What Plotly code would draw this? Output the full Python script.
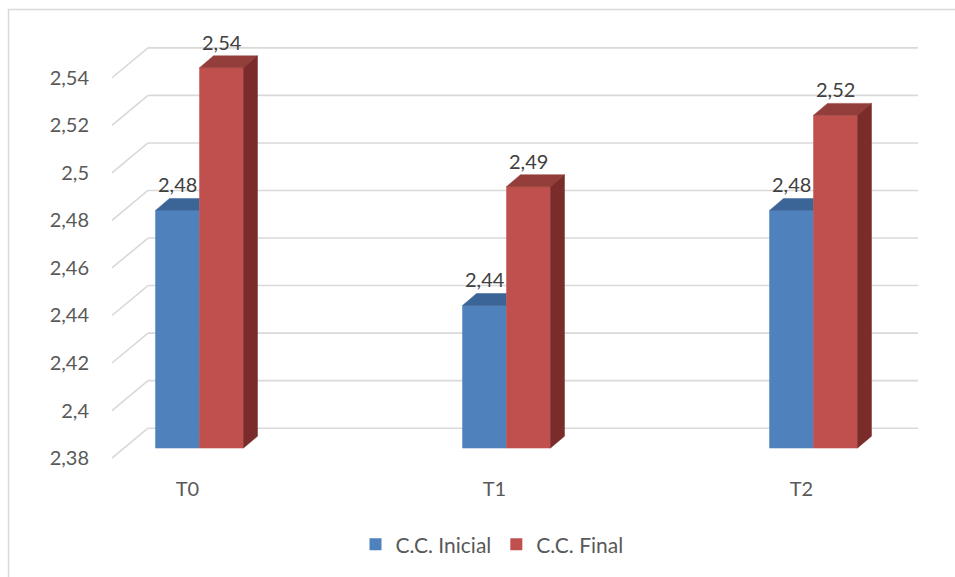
import plotly.graph_objects as go

categories = ["T0", "T1", "T2"]
cc_inicial = [2.48, 2.44, 2.48]
cc_final = [2.54, 2.49, 2.52]
tick_values = [2.38, 2.40, 2.42, 2.44, 2.46, 2.48, 2.50, 2.52, 2.54]
tick_labels = ["2,38", "2,4", "2,42", "2,44", "2,46", "2,48", "2,5", "2,52", "2,54"]
series_names = ["C.C. Inicial", "C.C. Final"]

# ---- layout geometry (pixels) ----
W, H = 955, 577
L, R, T, B = 112, 930, 20, 470
PXY = (460 - 78) / (2.54 - 2.38)   # px per value unit (front plane)
PXX = 307.0                        # px per category
X0PX = 199.5                       # pixel of category 0 centre (bar plane)
ymin = 2.38 - (B - 460) / PXY
ymax = 2.54 + (78 - T) / PXY
xmin = (L - X0PX) / PXX
xmax = (R - X0PX) / PXX

# 3D offsets
floor_dx, floor_dy = 36 / PXX, 30 / PXY   # front -> back wall
bar_dx, bar_dy = 12 / PXX, 10 / PXY       # front -> bar plane
dep_dx, dep_dy = 14 / PXX, 12 / PXY       # bar depth
bw = 44 / PXX                             # bar width

grid_col = "#d9d9d9"
colors = {"front": ["#4f81bd", "#c0504d"],
          "top": ["#3b6596", "#933e3b"],
          "side": ["#2f5582", "#7a2c2a"]}
FONT = "Lato"

fig = go.Figure()
shapes = []
x_front = (112 - X0PX) / PXX
x_back_end = (918 - X0PX) / PXX
for v in tick_values:
    shapes.append(dict(type="line", xref="x", yref="y", x0=x_front, y0=v,
                       x1=x_front + floor_dx, y1=v + floor_dy,
                       line=dict(color=grid_col, width=1.6), layer="below"))
    shapes.append(dict(type="line", xref="x", yref="y", x0=x_front + floor_dx, y0=v + floor_dy,
                       x1=x_back_end, y1=v + floor_dy,
                       line=dict(color=grid_col, width=1.6), layer="below"))


def px_to_paper_x(p):
    return (p - L) / (R - L)


def px_to_paper_y(p):
    return (B - p) / (B - T)


shapes.append(dict(type="rect", xref="paper", yref="paper",
                   x0=px_to_paper_x(8.5), x1=px_to_paper_x(1000),
                   y0=px_to_paper_y(700), y1=px_to_paper_y(9.5),
                   line=dict(color="#d9d9d9", width=1.5), fillcolor="rgba(0,0,0,0)", layer="below"))


def poly(xs_, ys_, col):
    fig.add_trace(go.Scatter(
        x=xs_ + [xs_[0]], y=ys_ + [ys_[0]], fill="toself", fillcolor=col, mode="lines",
        line=dict(width=0.5, color=col), showlegend=False, hoverinfo="skip"))


xs = list(range(len(categories)))
annotations = []
base = 2.38 + bar_dy
for s, vals in enumerate([cc_inicial, cc_final]):
    offset = -bw if s == 0 else 0
    # legend entry
    fig.add_trace(go.Bar(x=[None], y=[None], name=series_names[s],
                         marker=dict(color=colors["front"][s], line=dict(width=0))))
    for i, v in enumerate(vals):
        xl = xs[i] + offset
        xr = xl + bw
        top = v + bar_dy
        # front face
        poly([xl, xr, xr, xl], [base, base, top, top], colors["front"][s])
        if s == 0:
            # top face clipped at boundary (rest hidden by the neighbouring bar)
            poly([xl, xr, xr, xl + dep_dx], [top, top, top + dep_dy, top + dep_dy], colors["top"][s])
        else:
            poly([xl, xr, xr + dep_dx, xl + dep_dx], [top, top, top + dep_dy, top + dep_dy], colors["top"][s])
            poly([xr, xr, xr + dep_dx, xr + dep_dx], [base, top, top + dep_dy, base + dep_dy], colors["side"][s])
        annotations.append(dict(
            x=(xl + xr) / 2, y=top, xref="x", yref="y", text=f"{v:.2f}".replace(".", ","),
            showarrow=False, yanchor="bottom", yshift=12,
            font=dict(family=FONT, size=20, color="#404040")))

fig.update_layout(
    width=W, height=H,
    margin=dict(l=L, r=W - R, t=T, b=H - B),
    paper_bgcolor="white", plot_bgcolor="white",
    barmode="overlay",
    shapes=shapes, annotations=annotations,
    font=dict(family=FONT, size=20, color="#595959"),
    xaxis=dict(range=[xmin, xmax], showgrid=False, zeroline=False, showline=False,
               tickvals=[x - bar_dx for x in xs], ticktext=categories, ticks="",
               ticklabelstandoff=7, tickfont=dict(size=20, color="#595959")),
    yaxis=dict(range=[ymin, ymax], showgrid=False, zeroline=False, showline=False,
               tickvals=tick_values, ticktext=tick_labels, ticks="",
               ticklabelstandoff=22, tickfont=dict(size=20, color="#595959")),
    legend=dict(orientation="h", x=px_to_paper_x(492), xanchor="center",
                y=px_to_paper_y(547), yanchor="middle",
                font=dict(size=21, color="#595959"), itemwidth=30, tracegroupgap=0),
    showlegend=True,
)
fig.write_html("out.html")
